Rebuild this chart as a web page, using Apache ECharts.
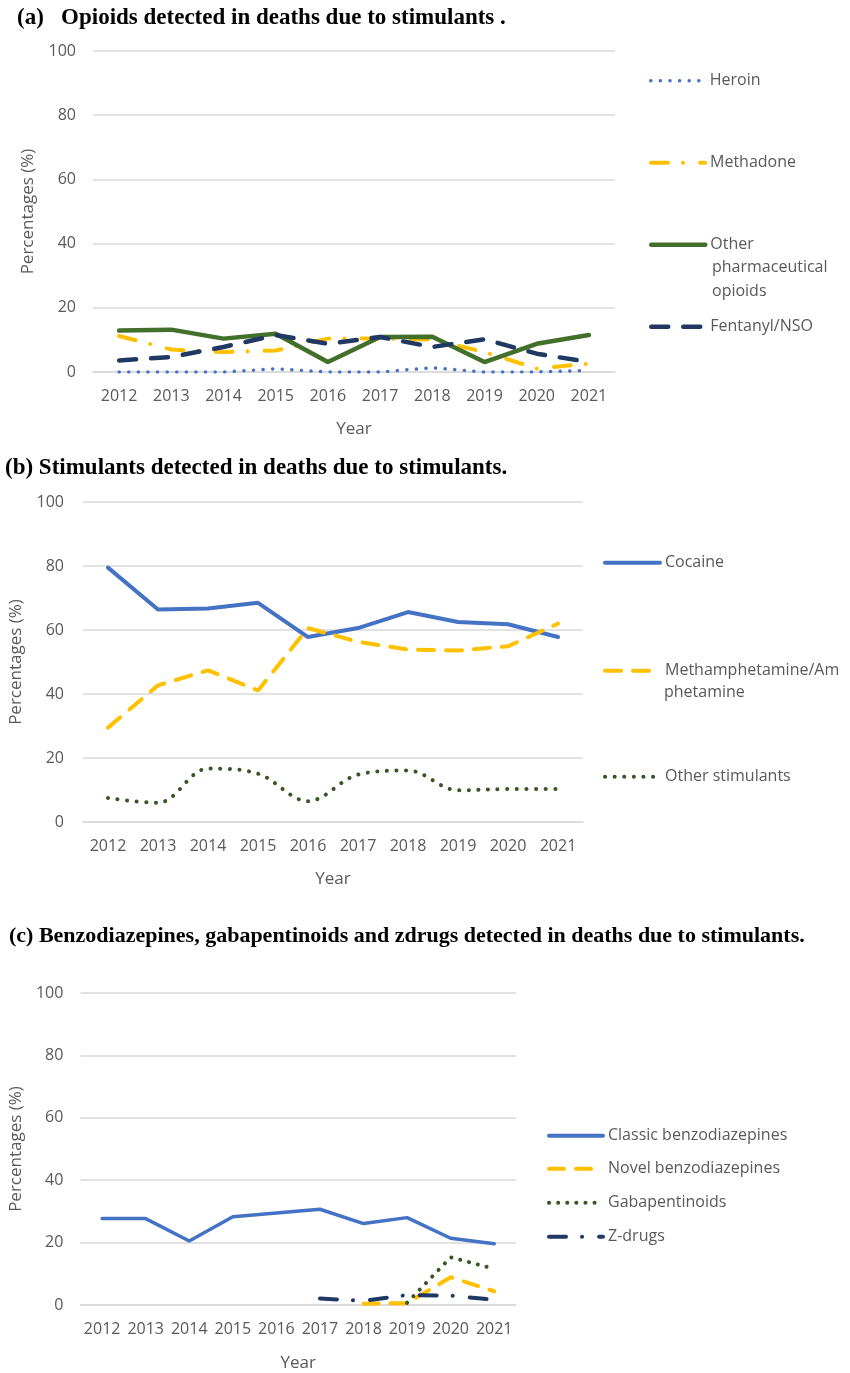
<!DOCTYPE html>
<html><head><meta charset="utf-8">
<script src="https://cdn.jsdelivr.net/npm/echarts@6/dist/echarts.min.js"></script>
<style>html,body{margin:0;padding:0;background:#fff}#c{width:850px;height:1373px}</style>
</head><body><div id="c"></div>
<script>
const years = ['2012','2013','2014','2015','2016','2017','2018','2019','2020','2021'];
// (a) opioids
const heroin = [0, 0, 0, 1.0, 0, 0, 1.3, 0, 0, 0.5];
const methadone = [11.2, 7.0, 6.2, 6.7, 10.4, 10.4, 10.1, 6.2, 1.1, 2.6];
const otherPharma = [12.9, 13.2, 10.4, 11.9, 3.1, 10.9, 11.0, 3.1, 8.8, 11.5];
const fentanyl = [3.6, 4.7, 7.8, 11.5, 8.8, 10.9, 7.8, 10.2, 5.7, 3.1];
// (b) stimulants
const cocaine = [79.5, 66.4, 66.7, 68.5, 57.8, 60.6, 65.6, 62.5, 61.8, 57.8];
const meth = [29.5, 42.7, 47.4, 41.1, 60.6, 56.3, 53.9, 53.6, 54.9, 62.0];
const otherStim = [7.5, 6.0, 16.7, 15.1, 6.5, 14.8, 16.1, 9.9, 10.3, 10.3];
// (c) benzodiazepines etc.
const classicBenzo = [27.7, 27.7, 20.5, 28.3, 29.5, 30.7, 26.1, 28.0, 21.4, 19.6];
const novelBenzo = [null, null, null, null, null, null, 0.4, 0.6, 8.9, 4.4];
const gabapentinoids = [null, null, null, null, null, null, null, 0.7, 15.3, 11.6];
const zdrugs = [null, null, null, null, null, 2.1, 1.3, 3.2, 3.0, 1.7];
const yTicks = {min: 0, max: 100, interval: 20};

const FONT = 'Open Sans';
const GREY = '#595959';
const BLUE = '#4472C4', YEL = '#FFC000', GRN = '#426F2A', DGRN = '#375623', NAVY = '#203864';

const grids = [
  {left: 93, top: 51, width: 522, height: 321},
  {left: 83, top: 502, width: 500, height: 320},
  {left: 72, top: 993, width: 444, height: 314}
];
function xAx(i, margin, gap) {
  return {type: 'category', gridIndex: i, data: years, boundaryGap: true,
    axisLine: {show: true, lineStyle: {color: '#d9d9d9', width: 1.5}}, axisTick: {show: false},
    axisLabel: {color: GREY, fontFamily: FONT, fontSize: 16, margin: margin, interval: 0},
    name: 'Year', nameLocation: 'middle', nameGap: gap,
    nameTextStyle: {color: GREY, fontFamily: FONT, fontSize: 17}};
}
function yAx(i, margin, gap) {
  return {type: 'value', gridIndex: i, min: yTicks.min, max: yTicks.max, interval: yTicks.interval,
    axisLine: {show: false}, axisTick: {show: false},
    splitLine: {lineStyle: {color: '#d9d9d9', width: 1.5}},
    axisLabel: {color: GREY, fontFamily: FONT, fontSize: 16, margin: margin},
    name: 'Percentages (%)', nameLocation: 'middle', nameGap: gap,
    nameTextStyle: {color: GREY, fontFamily: FONT, fontSize: 17}};
}
function ser(name, data, i, color, width, type, smooth) {
  return {name: name, type: 'line', data: data, xAxisIndex: i, yAxisIndex: i,
    symbol: 'none', smooth: smooth || false, connectNulls: false,
    lineStyle: {color: color, width: width, type: type, cap: 'round'},
    itemStyle: {color: color}};
}
function leg(name, left, y, w, lw, fmt) {
  const o = {data: [name], left: left, top: y - 10, padding: 0, itemWidth: w, itemHeight: 14,
    selectedMode: false, itemGap: 0,
    itemStyle: {opacity: 0},
    lineStyle: {width: lw, cap: 'round'},
    textStyle: {color: GREY, fontFamily: FONT, fontSize: 16, lineHeight: 23.5}};
  if (fmt) o.formatter = fmt;
  return o;
}
function gtext(text, x, y) {
  return {type: 'text', left: x, top: y - 11, silent: true,
    style: {text: text, fill: GREY, font: '16px "Open Sans"', lineHeight: 23.5}};
}
const titleStyle = {fontFamily: 'Liberation Serif', fontWeight: 'bold', fontSize: 23, color: '#000'};

const option = {
  animation: false,
  title: [
    {text: '(a)   Opioids detected in deaths due to stimulants .', left: 12, top: 2, textStyle: titleStyle},
    {text: '(b) Stimulants detected in deaths due to stimulants.', left: 0, top: 452, textStyle: titleStyle},
    {text: '(c) Benzodiazepines, gabapentinoids and zdrugs detected in deaths due to stimulants.', left: 4, top: 920, textStyle: Object.assign({}, titleStyle, {fontSize: 22})}
  ],
  grid: grids,
  xAxis: [xAx(0, 16, 49), xAx(1, 16, 49), xAx(2, 16, 50)],
  yAxis: [yAx(0, 17, 56), yAx(1, 19, 58), yAx(2, 17, 54)],
  legend: [
    leg('Heroin', 649, 79, 54, 3.5),
    leg('Methadone', 649, 161, 54, 4),
    leg('Other pharmaceutical opioids', 649, 243, 54, 4.5, () => 'Other'),
    leg('Fentanyl/NSO', 649, 325, 54, 4.5),
    leg('Cocaine', 603, 561, 55, 4),
    leg('Methamphetamine/Amphetamine', 603, 669, 55, 4, () => 'Methamphetamine/Am'),
    leg('Other stimulants', 603, 775, 55, 4),
    leg('Classic benzodiazepines', 547, 1134, 54, 4),
    leg('Novel benzodiazepines', 547, 1167, 54, 4),
    leg('Gabapentinoids', 547, 1201, 54, 4),
    leg('Z-drugs', 547, 1235, 54, 4)
  ],
  graphic: [
    gtext('pharmaceutical\nopioids', 712, 267),
    gtext('phetamine', 664, 692)
  ],
  series: [
    ser('Heroin', heroin, 0, BLUE, 3.5, [0.1, 9.5]),
    ser('Methadone', methadone, 0, YEL, 4, [17, 15, 0.1, 17]),
    ser('Other pharmaceutical opioids', otherPharma, 0, GRN, 4.5, 'solid'),
    ser('Fentanyl/NSO', fentanyl, 0, NAVY, 4.5, [17, 15]),
    ser('Cocaine', cocaine, 1, BLUE, 4, 'solid'),
    ser('Methamphetamine/Amphetamine', meth, 1, YEL, 4, [16, 12]),
    ser('Other stimulants', otherStim, 1, DGRN, 4, [0.1, 9.5], 0.35),
    ser('Classic benzodiazepines', classicBenzo, 2, BLUE, 3.5, 'solid'),
    ser('Novel benzodiazepines', novelBenzo, 2, YEL, 4, [15, 12]),
    ser('Gabapentinoids', gabapentinoids, 2, DGRN, 4, [0.1, 9]),
    ser('Z-drugs', zdrugs, 2, NAVY, 4, [17, 16, 0.1, 17])
  ]
};
const chart = echarts.init(document.getElementById('c'), null, {renderer: 'canvas'});
chart.setOption(option);
</script></body></html>
